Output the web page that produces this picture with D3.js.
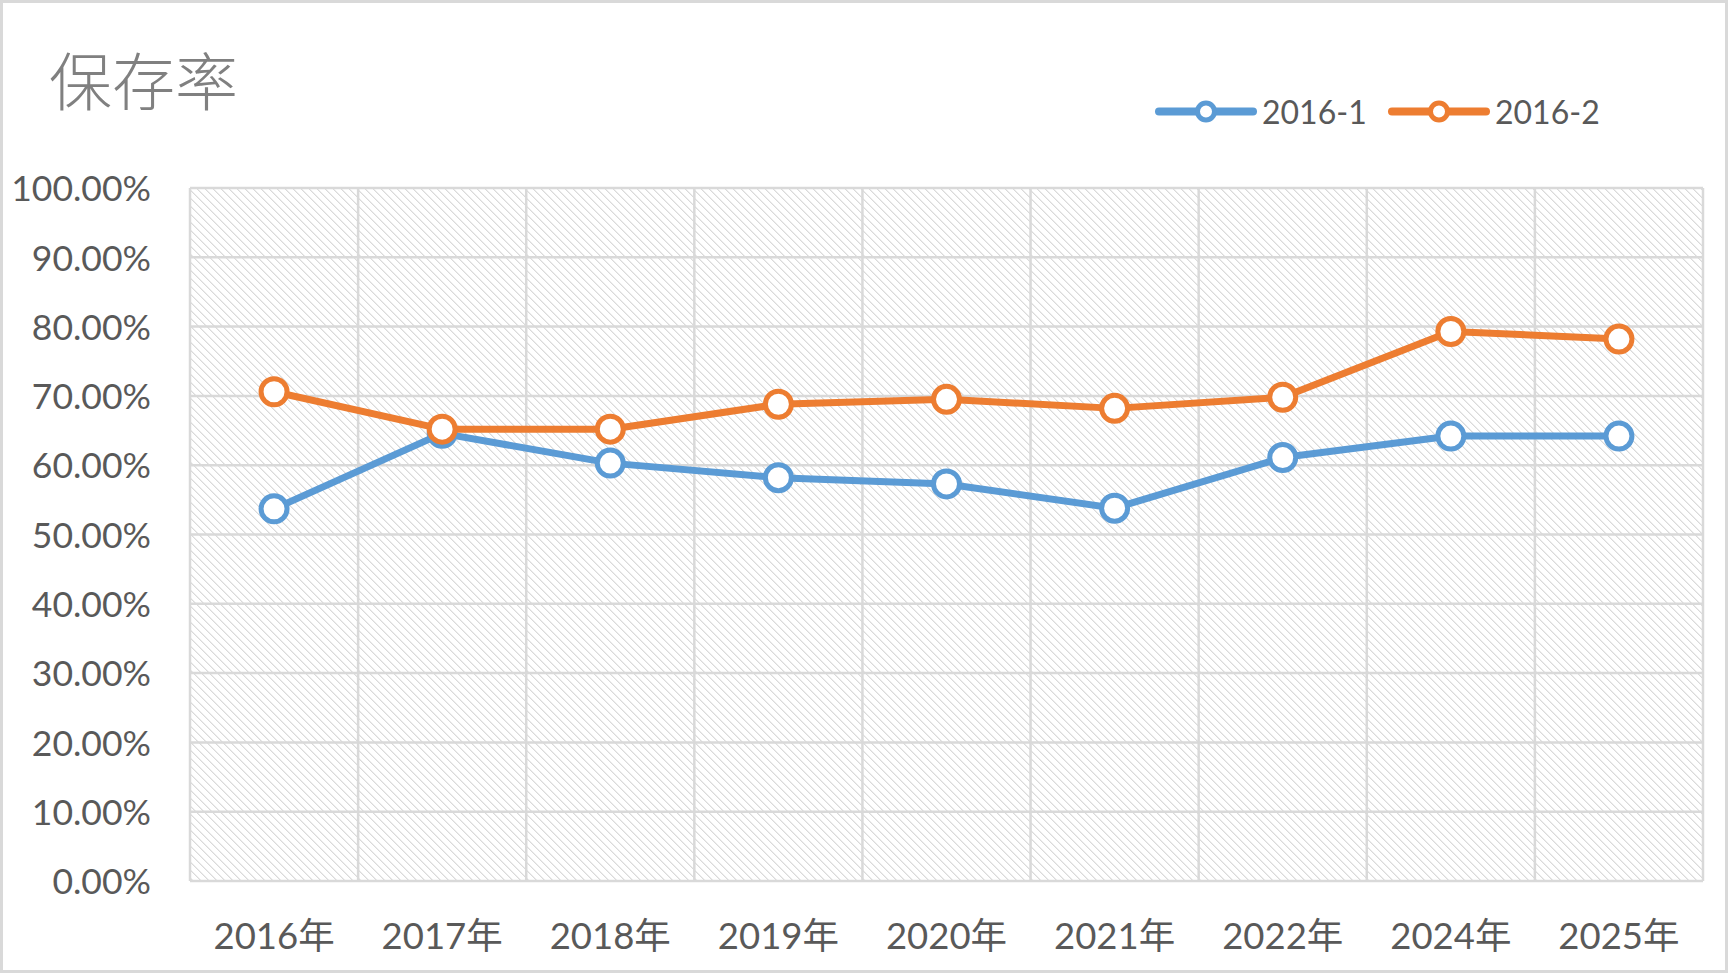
<!DOCTYPE html>
<html><head><meta charset="utf-8">
<script src="https://cdn.jsdelivr.net/npm/d3@7"></script>
<style>html,body{margin:0;padding:0;background:#fff;}svg{display:block;}</style>
</head><body>
<script>
const title = "保存率";
const categories = ["2016年","2017年","2018年","2019年","2020年","2021年","2022年","2024年","2025年"];
const seriesNames = ["2016-1","2016-2"];
const series1 = [0.537, 0.646, 0.603, 0.582, 0.573, 0.538, 0.611, 0.642, 0.642];
const series2 = [0.706, 0.652, 0.652, 0.688, 0.695, 0.682, 0.698, 0.793, 0.782];
const yTicks = [0,0.1,0.2,0.3,0.4,0.5,0.6,0.7,0.8,0.9,1.0];
const colors = ["#5b9bd5","#ed7d31"];

const W = 1728, H = 973;
const plot = {left:190, top:188, right:1703, bottom:881};
const svg = d3.select("body").append("svg").attr("width",W).attr("height",H);

const defs = svg.append("defs");
const pat = defs.append("pattern").attr("id","hatch").attr("patternUnits","userSpaceOnUse")
  .attr("width",8).attr("height",8);
pat.append("rect").attr("width",8).attr("height",8).attr("fill","#fff");
for (let i=0;i<8;i++){
  pat.append("rect").attr("x",i).attr("y",i).attr("width",1).attr("height",1).attr("fill","#dadada");
  pat.append("rect").attr("x",(i+1)%8).attr("y",i).attr("width",1).attr("height",1).attr("fill","#ececec");
}

svg.append("rect").attr("x",1.5).attr("y",1.5).attr("width",W-3).attr("height",H-3)
  .attr("fill","#fff").attr("stroke","#d9d9d9").attr("stroke-width",3);

const x = d3.scaleBand().domain(categories).range([plot.left,plot.right]).padding(0);
const y = d3.scaleLinear().domain([0,1]).range([plot.bottom,plot.top]);

svg.append("rect").attr("x",plot.left).attr("y",plot.top)
  .attr("width",plot.right-plot.left).attr("height",plot.bottom-plot.top).attr("fill","url(#hatch)");

// gridlines
const grid = svg.append("g").attr("stroke","#d9d9d9").attr("stroke-width",2.5);
grid.selectAll("line.h").data(yTicks).join("line").attr("class","h")
  .attr("x1",plot.left).attr("x2",plot.right).attr("y1",d=>y(d)).attr("y2",d=>y(d));
const vx = categories.map(c=>x(c)).concat([plot.right]);
grid.selectAll("line.v").data(vx).join("line").attr("class","v")
  .attr("x1",d=>d).attr("x2",d=>d).attr("y1",plot.top).attr("y2",plot.bottom);

// y axis labels
const yAxis = d3.axisLeft(y).tickValues(yTicks).tickFormat(d3.format(".2%")).tickSize(0).tickPadding(0);
const ya = svg.append("g").attr("transform",`translate(151,0)`).call(yAxis);
ya.select(".domain").remove();
ya.selectAll("text").attr("font-family","Lato, 'Noto Sans CJK SC', sans-serif").attr("font-size",35.5)
  .attr("fill","#595959").attr("dy","0.36em");

// x axis labels
const xAxis = d3.axisBottom(x).tickSize(0).tickPadding(0);
const xa = svg.append("g").attr("transform",`translate(0,${plot.bottom})`).call(xAxis);
xa.select(".domain").remove();
xa.selectAll("text").attr("font-family","Lato, 'Noto Sans CJK SC', sans-serif").attr("font-size",36.5)
  .attr("fill","#595959").attr("dy",null).attr("y",68);

// title
svg.append("text").attr("x",49).attr("y",105).text(title)
  .attr("font-family","'Noto Sans CJK SC', sans-serif").attr("font-size",63).attr("font-weight",300)
  .attr("fill","#808080");

// lines
const line = d3.line().x((d,i)=>x(categories[i])+x.bandwidth()/2).y(d=>y(d));
[series1, series2].forEach((s,k)=>{
  const g = svg.append("g");
  g.append("path").attr("d",line(s)).attr("fill","none").attr("stroke",colors[k])
    .attr("stroke-width",7).attr("stroke-linejoin","round").attr("stroke-linecap","round");
  g.selectAll("circle").data(s).join("circle")
    .attr("cx",(d,i)=>x(categories[i])+x.bandwidth()/2).attr("cy",d=>y(d)).attr("r",13)
    .attr("fill","#fff").attr("stroke",colors[k]).attr("stroke-width",5);
});

// legend
const legX = [1159, 1392];
seriesNames.forEach((n,k)=>{
  const g = svg.append("g");
  const lx = legX[k], ly = 111.5;
  g.append("line").attr("x1",lx).attr("x2",lx+94).attr("y1",ly).attr("y2",ly)
    .attr("stroke",colors[k]).attr("stroke-width",8).attr("stroke-linecap","round");
  g.append("circle").attr("cx",lx+47).attr("cy",ly).attr("r",8.5)
    .attr("fill","#fff").attr("stroke",colors[k]).attr("stroke-width",5);
  g.append("text").attr("x",lx+103).attr("y",ly+12).text(n)
    .attr("font-family","Lato, sans-serif").attr("font-size",32).attr("fill","#595959");
});
</script>
</body></html>
